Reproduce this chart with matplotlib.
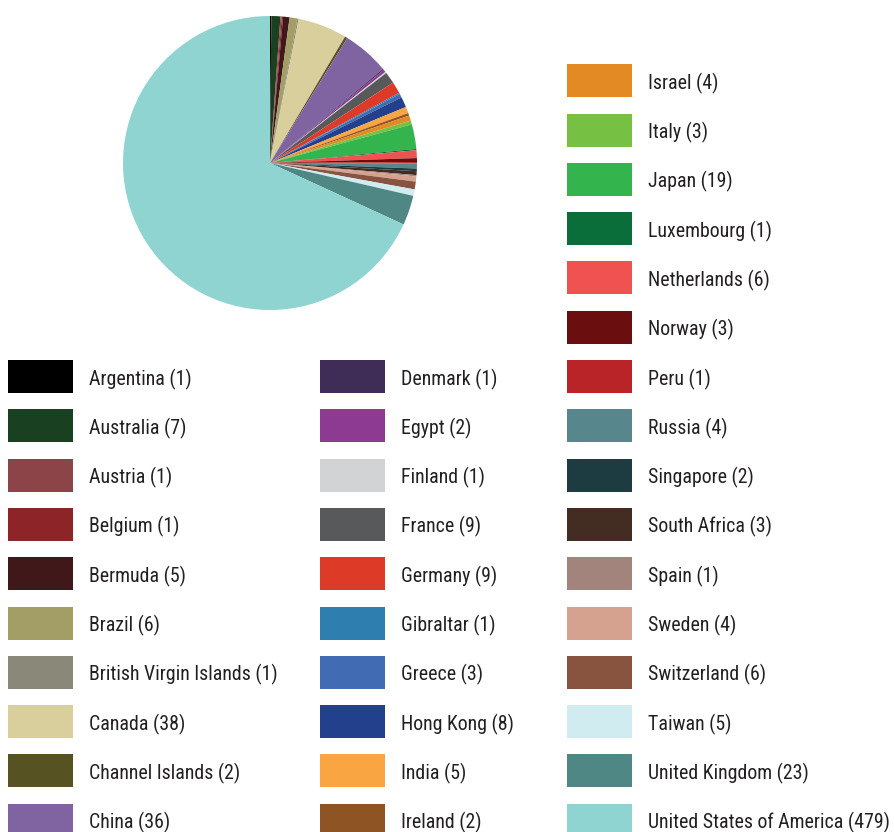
import matplotlib
matplotlib.use('Agg')
import matplotlib.pyplot as plt
from matplotlib.patches import Rectangle

plt.rcParams['font.family'] = ['Roboto Condensed', 'Roboto', 'DejaVu Sans']

countries = ['Argentina', 'Australia', 'Austria', 'Belgium', 'Bermuda', 'Brazil',
             'British Virgin Islands', 'Canada', 'Channel Islands', 'China',
             'Denmark', 'Egypt', 'Finland', 'France', 'Germany', 'Gibraltar',
             'Greece', 'Hong Kong', 'India', 'Ireland',
             'Israel', 'Italy', 'Japan', 'Luxembourg', 'Netherlands', 'Norway',
             'Peru', 'Russia', 'Singapore', 'South Africa', 'Spain', 'Sweden',
             'Switzerland', 'Taiwan', 'United Kingdom', 'United States of America']
counts = [1, 7, 1, 1, 5, 6, 1, 38, 2, 36,
          1, 2, 1, 9, 9, 1, 3, 8, 5, 2,
          4, 3, 19, 1, 6, 3, 1, 4, 2, 3, 1, 4, 6, 5, 23, 479]
colors = ['#000000', '#1a4022', '#8c4448', '#8c2428', '#41181a', '#a39e66',
          '#8a8878', '#d8cf9c', '#575222', '#8064a2',
          '#3f2d58', '#8c3a92', '#d2d3d5', '#58595b', '#dd3a27', '#2e7eb0',
          '#416cb3', '#22408c', '#f9a541', '#8f5424',
          '#e38a25', '#76c043', '#34b44c', '#0a6e3a', '#f05252', '#6b0e0f',
          '#b82428', '#57868c', '#1c3c42', '#432c22', '#a2847c', '#d4a28e',
          '#885440', '#d1ecf1', '#4f8784', '#8fd4d1']

W, H = 895, 832
fig = plt.figure(figsize=(W / 100, H / 100), dpi=100)

# pie, centred at (270, 163) px with radius 147 px
cx, cy, r = 270, 163, 147
ax = fig.add_axes([(cx - r) / W, (H - cy - r) / H, 2 * r / W, 2 * r / H])
ax.pie(counts, colors=colors, startangle=90, counterclock=False,
       wedgeprops=dict(linewidth=0))
ax.set_xlim(-1, 1)
ax.set_ylim(-1, 1)
ax.set_aspect('equal')
ax.axis('off')

# legend drawn in pixel coordinates
lg = fig.add_axes([0, 0, 1, 1])
lg.set_xlim(0, W)
lg.set_ylim(H, 0)
lg.axis('off')

col_x = [8, 320, 567]
first_row = [0, 0, -6]
groups = [range(0, 10), range(10, 20), range(20, 36)]
y0, dy = 376.5, 49.3
sw_w, sw_h = 65, 33

for c, idx in enumerate(groups):
    for k, i in enumerate(idx):
        y = y0 + (first_row[c] + k) * dy
        lg.add_patch(Rectangle((col_x[c], y - sw_h / 2), sw_w, sw_h,
                               facecolor=colors[i], edgecolor='none'))
        lg.text(col_x[c] + 81, y + 2.5, f'{countries[i]} ({counts[i]})',
                fontsize=14.3, color='#231f20', va='center', ha='left')

fig.savefig('out.png', dpi=100)
